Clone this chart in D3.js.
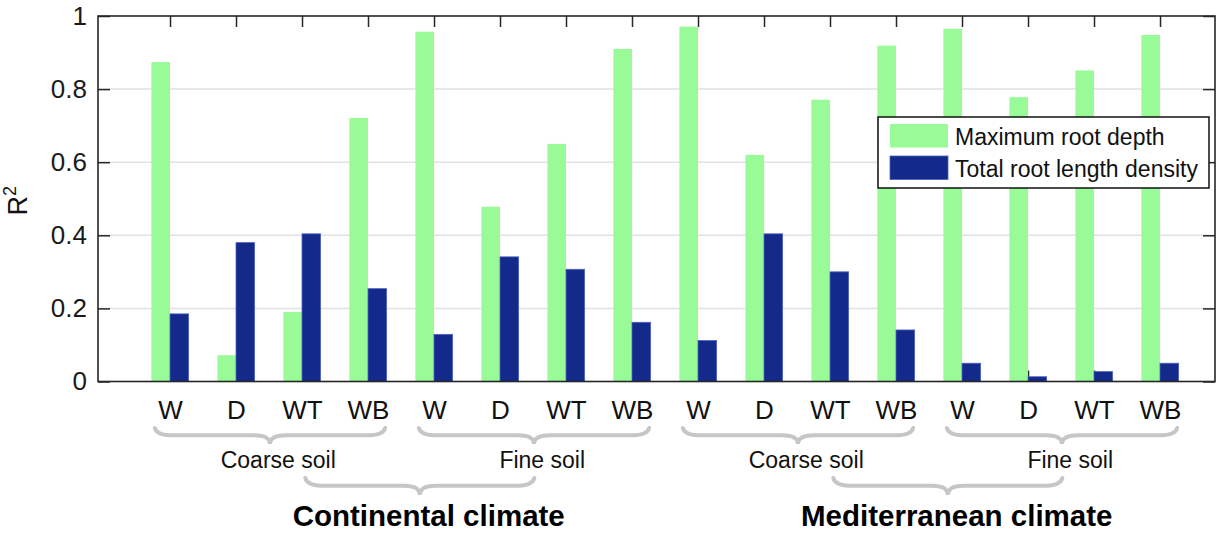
<!DOCTYPE html>
<html>
<head>
<meta charset="utf-8">
<script src="https://cdn.jsdelivr.net/npm/d3@7/dist/d3.min.js"></script>
<style>
  html, body { margin: 0; padding: 0; background: #fff; }
  svg { display: block; font-family: "Liberation Sans", Arial, sans-serif; }
</style>
</head>
<body>
<svg id="chart" width="1226" height="533"></svg>
<script>
// ---------- data ----------
const categories = ["W","D","WT","WB","W","D","WT","WB","W","D","WT","WB","W","D","WT","WB"];
const maxRootDepth = [0.874, 0.072, 0.190, 0.721, 0.957, 0.478, 0.650, 0.910,
                      0.971, 0.620, 0.771, 0.919, 0.965, 0.778, 0.851, 0.948];
const totalRootLengthDensity = [0.185, 0.380, 0.404, 0.254, 0.129, 0.341, 0.307, 0.162,
                                0.112, 0.404, 0.300, 0.141, 0.050, 0.013, 0.027, 0.050];
const seriesNames = ["Maximum root depth", "Total root length density"];
const soilLabels = ["Coarse soil", "Fine soil", "Coarse soil", "Fine soil"];
const climateLabels = ["Continental climate", "Mediterranean climate"];
const yTickValues = [0, 0.2, 0.4, 0.6, 0.8, 1];
const yTickLabels = ["0", "0.2", "0.4", "0.6", "0.8", "1"];

// ---------- layout ----------
const svg = d3.select("#chart");
const L = 98, R = 1215, T = 16, B = 381.5;
const x = d3.scaleLinear().domain([-0.091, 16.833]).range([L, R]);
const y = d3.scaleLinear().domain([0, 1]).range([B, T]);
const bw = 0.282; // bar width in x units
const colors = ["#98fb98", "#142a8a"];
const axisColor = "#262626";

// gridlines
svg.append("g").selectAll("line")
  .data(yTickValues.filter(v => v > 0 && v < 1))
  .join("line")
  .attr("x1", L).attr("x2", R)
  .attr("y1", d => y(d)).attr("y2", d => y(d))
  .attr("stroke", "#e1e1e1").attr("stroke-width", 1.5);

const idx = d3.range(1, 17);

function styleAxis(g) {
  g.select(".domain").remove();
  g.selectAll(".tick line").attr("stroke", axisColor).attr("stroke-width", 1.5);
  g.selectAll(".tick text").attr("fill", "#1a1a1a");
}

// ticks (under bars)
svg.append("g").attr("transform", `translate(${L},0)`)
  .call(d3.axisLeft(y).tickValues(yTickValues).tickFormat((d, i) => yTickLabels[i]).tickSize(-12).tickPadding(11))
  .call(styleAxis)
  .call(g => g.selectAll(".tick text").attr("font-size", 26).attr("font-family", "Liberation Sans, Arial, sans-serif"));
svg.append("g").attr("transform", `translate(${R},0)`)
  .call(d3.axisRight(y).tickValues(yTickValues).tickFormat("").tickSize(-12))
  .call(styleAxis);
svg.append("g").attr("transform", `translate(0,${T})`)
  .call(d3.axisTop(x).tickValues(idx).tickFormat("").tickSize(-11))
  .call(styleAxis);
svg.append("g").attr("transform", `translate(0,${B})`)
  .call(d3.axisBottom(x).tickValues(idx).tickFormat(i => categories[i - 1]).tickSize(-11).tickPadding(19))
  .call(styleAxis)
  .call(g => g.selectAll(".tick text").attr("font-size", 26).attr("font-family", "Liberation Sans, Arial, sans-serif").attr("fill", "#111"));

// bars
const series = [maxRootDepth, totalRootLengthDensity];
series.forEach((vals, s) => {
  svg.append("g").selectAll("rect")
    .data(vals)
    .join("rect")
    .attr("x", (d, i) => x(i + 1 + (s === 0 ? -bw : 0)))
    .attr("width", x(bw) - x(0))
    .attr("y", d => y(d))
    .attr("height", d => y(0) - y(d))
    .attr("fill", colors[s])
    .attr("stroke", s === 1 ? "#4c60c4" : "none")
    .attr("stroke-width", 0.8);
});

// axis box on top
svg.append("rect")
  .attr("x", L).attr("y", T).attr("width", R - L).attr("height", B - T)
  .attr("fill", "none").attr("stroke", axisColor).attr("stroke-width", 1.6);

// y label
svg.append("text")
  .attr("transform", `translate(27,${(T + B) / 2 + 2}) rotate(-90)`)
  .attr("text-anchor", "middle")
  .attr("font-size", 27).attr("fill", "#111")
  .call(t => {
    t.append("tspan").text("R");
    t.append("tspan").attr("font-size", 18).attr("dy", -11).text("2");
  });

// legend
const lg = svg.append("g");
lg.append("rect").attr("x", 878).attr("y", 117).attr("width", 331).attr("height", 71)
  .attr("fill", "#fff").attr("stroke", "#111").attr("stroke-width", 1.5);
seriesNames.forEach((name, s) => {
  lg.append("rect").attr("x", 890).attr("y", 124 + s * 32).attr("width", 58).attr("height", 23.5)
    .attr("fill", colors[s]).attr("stroke", s === 1 ? "#4c60c4" : "none").attr("stroke-width", 0.8);
  lg.append("text").attr("x", 955).attr("y", 145 + s * 32)
    .attr("font-size", 23).attr("fill", "#111").text(name);
});

// braces
function bracePath(x0, x1, tip, y0, h) {
  const ym = y0 + h * 0.45;
  const r = 16;
  return `M${x0},${y0} Q${x0 + 2},${ym} ${x0 + r},${ym} L${tip - r},${ym} Q${tip},${ym} ${tip},${y0 + h}` +
         ` Q${tip},${ym} ${tip + r},${ym} L${x1 - r},${ym} Q${x1 - 2},${ym} ${x1},${y0}`;
}
const braceColor = "#c6c6c6";
// soil braces: 4 groups of 4 categories
soilLabels.forEach((lab, k) => {
  const first = k * 4 + 1, last = k * 4 + 4;
  const x0 = x(first - 0.23), x1 = x(last + 0.26);
  const mid = (x0 + x1) / 2;
  svg.append("path").attr("d", bracePath(x0, x1, mid, 428, 16))
    .attr("fill", "none").attr("stroke", braceColor).attr("stroke-width", 4).attr("stroke-linecap", "round");
  svg.append("text").attr("x", x((first + last) / 2 + 0.14)).attr("y", 468)
    .attr("text-anchor", "middle").attr("font-size", 23).attr("fill", "#111").text(lab);
});
// climate braces
climateLabels.forEach((lab, k) => {
  const c = k * 8;
  const x0 = x(c + 2.5 + 0.55), x1 = x(c + 6.5 + 0.02);
  const mid = (x0 + x1) / 2;
  svg.append("path").attr("d", bracePath(x0, x1, mid, 478, 17))
    .attr("fill", "none").attr("stroke", braceColor).attr("stroke-width", 4).attr("stroke-linecap", "round");
  svg.append("text").attr("x", x(c + 4.5 + 0.42)).attr("y", 526)
    .attr("text-anchor", "middle").attr("font-size", 29.5).attr("font-weight", "bold").attr("fill", "#000").text(lab);
});
</script>
</body>
</html>
